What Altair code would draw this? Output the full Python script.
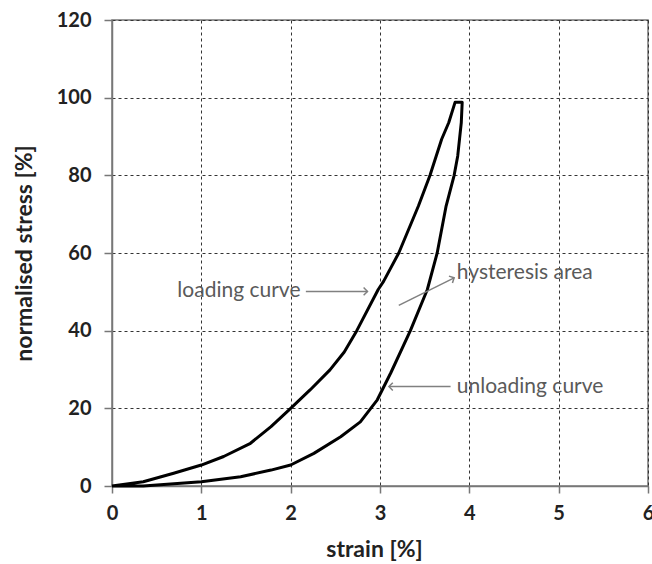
import altair as alt
import pandas as pd

# Hysteresis loop: loading branch then unloading branch (strain %, normalised stress %)
load_x = [0.0, 0.35, 0.69, 1.0, 1.25, 1.55, 1.78, 2.0, 2.22, 2.44, 2.6, 2.74, 2.98, 3.04, 3.21, 3.43, 3.56, 3.69, 3.77, 3.84]
load_y = [0.0, 1.1, 3.3, 5.4, 7.6, 11.0, 15.3, 20.0, 24.8, 29.9, 34.5, 40.0, 50.6, 52.7, 60.0, 72.1, 80.0, 89.3, 93.6, 98.8]
unload_x = [3.92, 3.91, 3.87, 3.83, 3.74, 3.64, 3.53, 3.34, 3.12, 2.97, 2.78, 2.56, 2.26, 2.0, 1.78, 1.44, 1.0, 0.35, 0.0]
unload_y = [98.8, 93.6, 85.0, 80.0, 72.1, 60.0, 50.6, 40.0, 29.1, 22.2, 16.5, 12.7, 8.4, 5.4, 4.1, 2.4, 1.1, 0.0, 0.0]

# Annotations
ann_text = ["loading curve", "hysteresis area", "unloading curve"]
ann_tx = [2.11, 3.86, 3.86]
ann_ty = [50.1, 54.9, 25.6]
ann_align = ["right", "left", "left"]
arr_x0 = [2.17, 3.21, 3.79]
arr_y0 = [50.1, 46.5, 25.6]
arr_x1 = [2.86, 3.83, 3.10]
arr_y1 = [50.1, 53.6, 25.6]
arr_angle = [0, 333, 180]

x_ticks = [0, 1, 2, 3, 4, 5, 6]
y_ticks = [0, 20, 40, 60, 80, 100, 120]

W, H = 536, 466
FONT = "Lato"

curve = pd.DataFrame({
    "x": load_x + unload_x,
    "y": load_y + unload_y,
    "o": list(range(len(load_x) + len(unload_x))),
})
ann = pd.DataFrame({"t": ann_text, "x": ann_tx, "y": ann_ty, "a": ann_align})
arr = pd.DataFrame({"x0": arr_x0, "y0": arr_y0, "x1": arr_x1, "y1": arr_y1, "ang": arr_angle})

xs = alt.Scale(domain=[0, 6], nice=False, zero=False)
ys = alt.Scale(domain=[0, 120], nice=False, zero=False)

xaxis = alt.Axis(values=x_ticks, format="d", title="strain [%]", grid=True, gridDash=[3, 3],
                 gridColor="#333", gridWidth=1, tickSize=7, labelPadding=10,
                 labelFontSize=20, labelFontWeight="bold", labelColor="#222",
                 titleFontSize=23, titleFontWeight="bold", titleColor="#222",
                 labelFont=FONT, titleFont=FONT, titleY=63, titleBaseline="middle",
                 titleX=262, domainColor="#777", tickColor="#777", domainWidth=1.5, tickWidth=1.5,
                 labelFlush=False)
yaxis = alt.Axis(values=y_ticks, format="d", title="normalised stress [%]", grid=True, gridDash=[3, 3],
                 gridColor="#333", gridWidth=1, tickSize=8, labelPadding=13,
                 labelFontSize=20, labelFontWeight="bold", labelColor="#222",
                 titleFontSize=23, titleFontWeight="bold", titleColor="#222",
                 labelFont=FONT, titleFont=FONT, titleX=-88, titleY=233, titleAngle=270,
                 titleBaseline="middle", titleAlign="center",
                 domainColor="#777", tickColor="#777", domainWidth=1.5, tickWidth=1.5,
                 labelFlush=False)

line = alt.Chart(curve).mark_line(color="black", strokeWidth=3, strokeJoin="round").encode(
    x=alt.X("x:Q", scale=xs, axis=xaxis),
    y=alt.Y("y:Q", scale=ys, axis=yaxis),
    order="o:Q",
)

rules = alt.Chart(arr).mark_rule(color="#808080", strokeWidth=1.5).encode(
    x="x0:Q", y="y0:Q", x2="x1:Q", y2="y1:Q"
)
heads = alt.Chart(arr).mark_point(shape="M-1,-1L0,0L-1,1", filled=False, stroke="#808080",
                                  strokeWidth=1.5, size=60, opacity=1).encode(
    x="x1:Q", y="y1:Q", angle=alt.Angle("ang:Q", scale=None)
)

texts = []
for al in ["left", "right"]:
    texts.append(alt.Chart(ann[ann.a == al]).mark_text(align=al, baseline="middle", fontSize=21,
                                                      font=FONT, color="#5a5a5a").encode(
        x="x:Q", y="y:Q", text="t:N"))

chart = alt.layer(line, rules, heads, *texts).properties(
    width=W, height=H,
    autosize=alt.AutoSizeParams(type="none"),
    padding={"left": 112, "top": 20, "right": 4, "bottom": 78},
    background="white",
).configure_view(stroke="#777", strokeWidth=1.5)

chart.save("out.html", embed_options={"renderer": "svg", "actions": False})
